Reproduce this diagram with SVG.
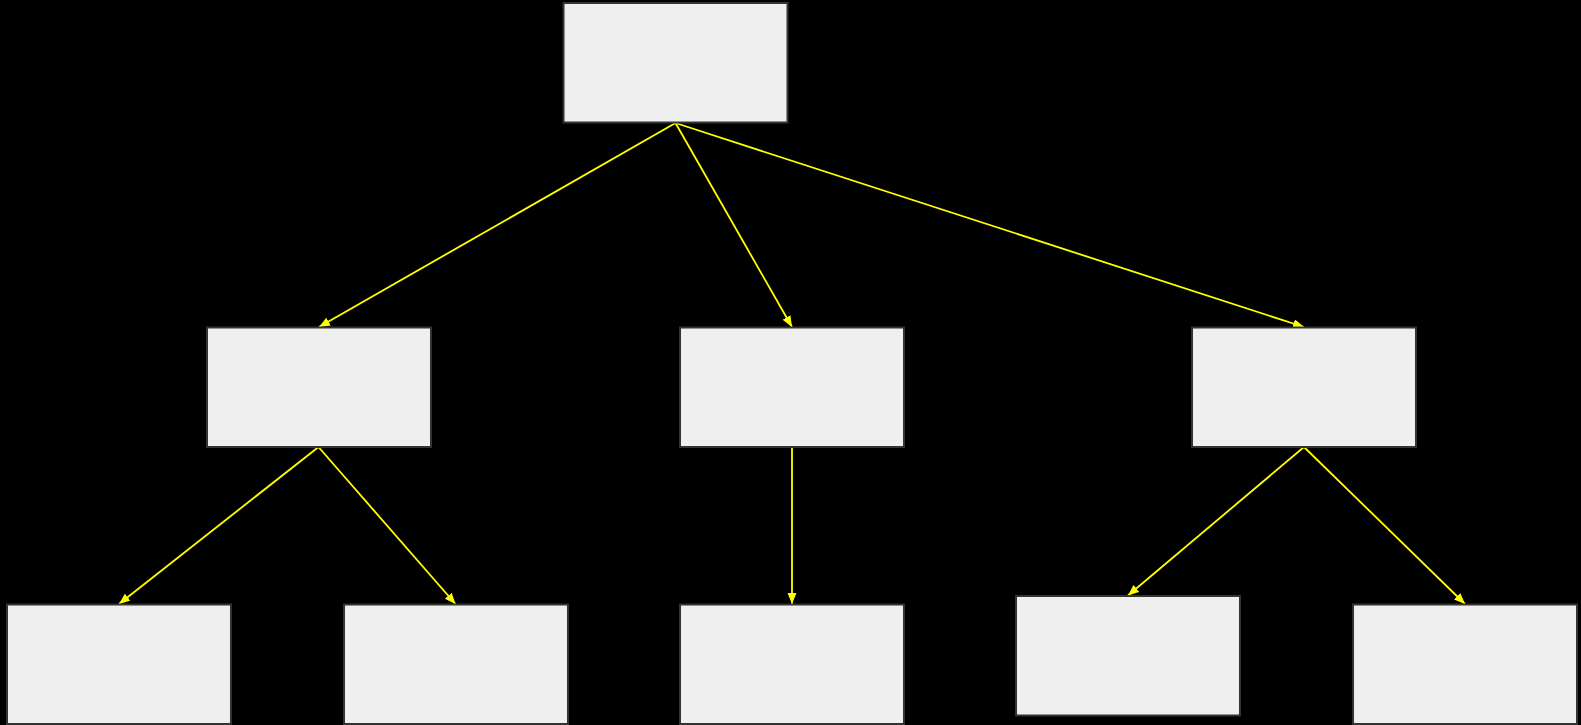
<svg xmlns="http://www.w3.org/2000/svg" width="1581" height="725" viewBox="0 0 1581 725">
<style>
.node rect{fill:#efefef;stroke:#333333;stroke-width:2}
.edge{stroke:#ffff00;stroke-width:1.8;fill:none;marker-end:url(#arr)}
</style>
<defs>
<marker id="arr" markerUnits="userSpaceOnUse" markerWidth="12" markerHeight="10" refX="11" refY="4.5" orient="auto">
<path d="M0,0 L11,4.5 L0,9 Z" fill="#ffff00"/>
</marker>
</defs>
<rect x="0" y="0" width="1581" height="725" fill="#000000"/>
<g id="connectors">
<line class="edge" x1="675.5" y1="123" x2="319" y2="327"/>
<line class="edge" x1="675.5" y1="123" x2="792" y2="327"/>
<line class="edge" x1="675.5" y1="123" x2="1304" y2="327"/>
<line class="edge" x1="318.5" y1="447" x2="119" y2="604"/>
<line class="edge" x1="318.5" y1="447" x2="455.5" y2="604"/>
<line class="edge" x1="792" y1="447" x2="792" y2="604"/>
<line class="edge" x1="1304" y1="447" x2="1128" y2="595.5"/>
<line class="edge" x1="1304" y1="447" x2="1465" y2="604"/>
</g>
<g id="n1" class="node"><rect x="563.5" y="3" width="224" height="119.5"/></g>
<g id="n2" class="node"><rect x="207" y="327.5" width="224" height="119.5"/></g>
<g id="n3" class="node"><rect x="680" y="327.5" width="224" height="119.5"/></g>
<g id="n4" class="node"><rect x="1192" y="327.5" width="224" height="119.5"/></g>
<g id="n5" class="node"><rect x="7" y="604.5" width="224" height="119.5"/></g>
<g id="n6" class="node"><rect x="344" y="604.5" width="224" height="119.5"/></g>
<g id="n7" class="node"><rect x="680" y="604.5" width="224" height="119.5"/></g>
<g id="n8" class="node"><rect x="1016" y="596" width="224" height="119.5"/></g>
<g id="n9" class="node"><rect x="1353" y="604.5" width="224" height="119.5"/></g>
</svg>
